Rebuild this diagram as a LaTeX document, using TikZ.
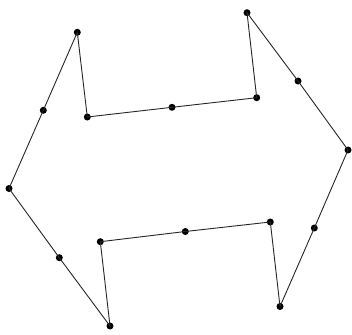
\documentclass[tikz,border=0pt]{standalone}
\begin{document}
\begin{tikzpicture}[x=1pt,y=-1pt,
  dot/.style={circle,fill=black,inner sep=0pt,minimum size=7pt},
  edge/.style={draw=black!85,line width=0.9pt}]
\useasboundingbox (0,0) rectangle (352,334);
\node[dot] (p1) at (77.3,32.3) {};
\node[dot] (p2) at (43.3,110.3) {};
\node[dot] (p3) at (9,188.5) {};
\node[dot] (p4) at (59.3,257.7) {};
\node[dot] (p5) at (110,326) {};
\node[dot] (p6) at (100.3,241.7) {};
\node[dot] (p7) at (185.3,231.5) {};
\node[dot] (p8) at (270.3,222) {};
\node[dot] (p9) at (280,306.5) {};
\node[dot] (p10) at (314.3,228) {};
\node[dot] (p11) at (348,150) {};
\node[dot] (p12) at (298,81) {};
\node[dot] (p13) at (247,12.7) {};
\node[dot] (p14) at (256.7,97.7) {};
\node[dot] (p15) at (172,107.3) {};
\node[dot] (p16) at (87.3,117) {};
\draw[edge] (p1.center) -- (p2.center) -- (p3.center) -- (p4.center) -- (p5.center) -- (p6.center) -- (p7.center) -- (p8.center) -- (p9.center) -- (p10.center) -- (p11.center) -- (p12.center) -- (p13.center) -- (p14.center) -- (p15.center) -- (p16.center) -- cycle;
\end{tikzpicture}
\end{document}
